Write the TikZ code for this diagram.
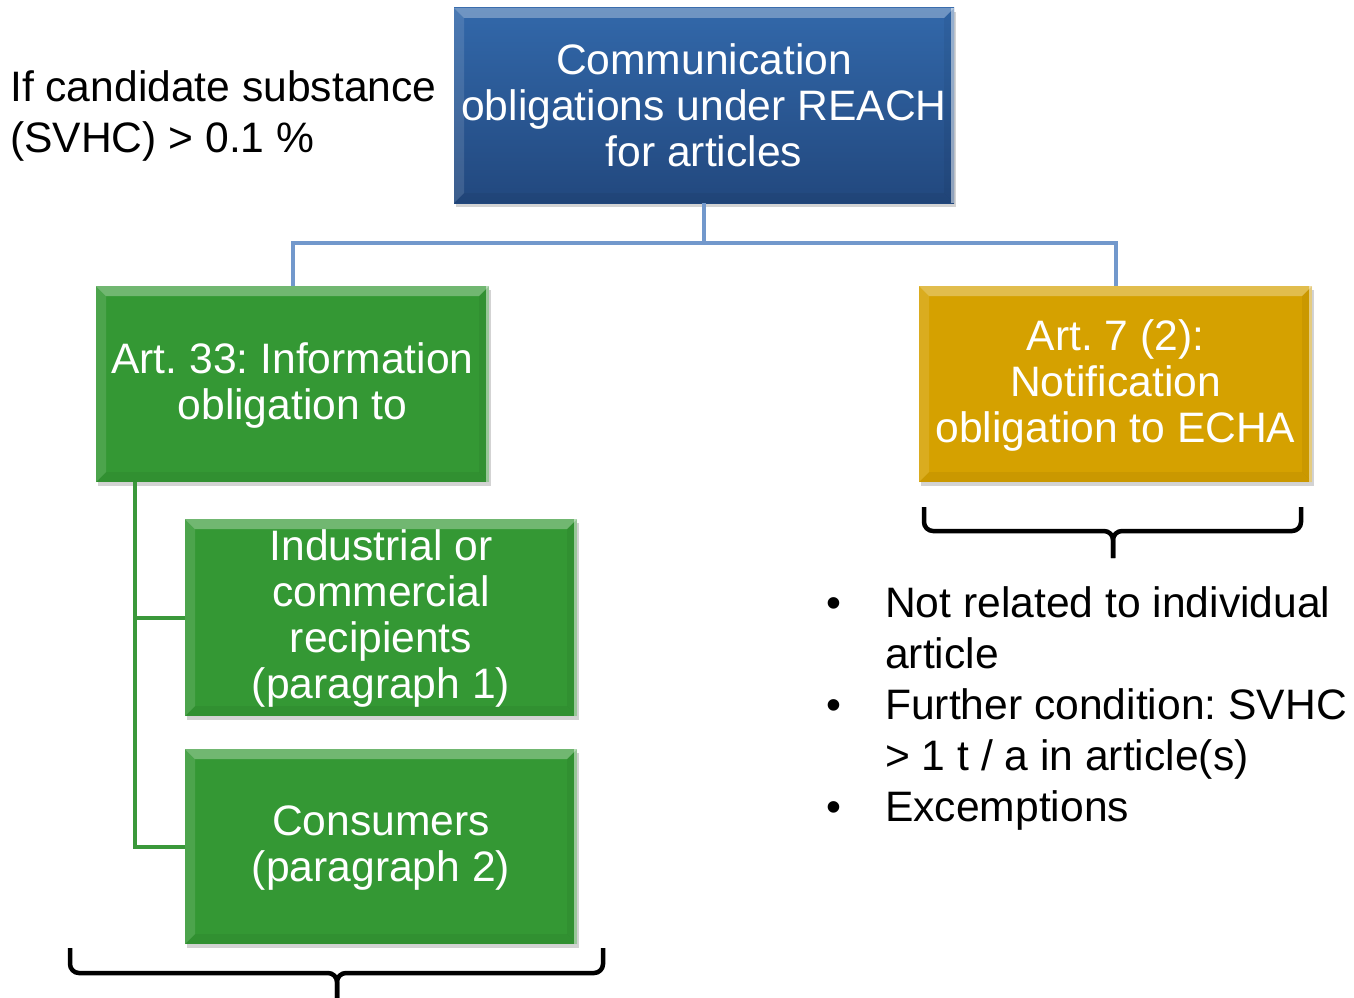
\documentclass[tikz,border=0pt]{standalone}
\usepackage{fontspec}
\setmainfont{Liberation Sans}
\usetikzlibrary{shadows}
\definecolor{bluetop}{RGB}{50,104,170}
\definecolor{bluebot}{RGB}{34,72,126}
\definecolor{boxgreen}{RGB}{52,152,52}
\definecolor{boxgold}{RGB}{213,161,0}
\definecolor{linkblue}{RGB}{114,152,204}
\definecolor{linkgreen}{RGB}{58,152,58}
\newcommand{\lowertext}[1]{\raisebox{-3pt}[\height][\depth]{\begin{tabular}{@{}c@{}}#1\end{tabular}}}
\frenchspacing
\begin{document}
\frenchspacing
\begin{tikzpicture}[x=1pt,y=-1pt,
  bevel/.style={path picture={
    \fill[white,opacity=.3] (path picture bounding box.north west) -- (path picture bounding box.north east) -- ([xshift=-10pt,yshift=-10pt]path picture bounding box.north east) -- ([xshift=10pt,yshift=-10pt]path picture bounding box.north west) -- cycle;
    \fill[white,opacity=.12] (path picture bounding box.north west) -- ([xshift=10pt,yshift=-10pt]path picture bounding box.north west) -- ([xshift=10pt,yshift=10pt]path picture bounding box.south west) -- (path picture bounding box.south west) -- cycle;
    \fill[black,opacity=.05] (path picture bounding box.south west) -- ([xshift=10pt,yshift=10pt]path picture bounding box.south west) -- ([xshift=-10pt,yshift=10pt]path picture bounding box.south east) -- (path picture bounding box.south east) -- cycle;
    \fill[black,opacity=.05] (path picture bounding box.north east) -- ([xshift=-10pt,yshift=-10pt]path picture bounding box.north east) -- ([xshift=-10pt,yshift=10pt]path picture bounding box.south east) -- (path picture bounding box.south east) -- cycle;
    \fill[white,opacity=.5] ([xshift=-3pt]path picture bounding box.north east) rectangle (path picture bounding box.south east);
  }},
  box/.style={inner sep=0pt, text=white, align=center,
    font=\fontsize{42.6}{46}\selectfont,
    drop shadow={shadow xshift=1.5pt,shadow yshift=-4pt,opacity=0.35},
    bevel},
  bluebox/.style={box, top color=bluetop, bottom color=bluebot},
  greenbox/.style={box, fill=boxgreen},
  goldbox/.style={box, fill=boxgold},
  bluelink/.style={draw=linkblue, line width=4pt},
  greenlink/.style={draw=linkgreen, line width=4pt},
  bracepath/.style={draw=black, line width=4.5pt, rounded corners=9pt},
  plain/.style={inner sep=0pt, font=\fontsize{42.6}{51}\selectfont, text=black}
]
\useasboundingbox (0,0) rectangle (1354,998);

% boxes
\node[bluebox, minimum width=500pt, minimum height=195pt] (top) at (704,105.5)
  {Communication\\obligations under REACH\\for articles};
\node[greenbox, minimum width=393pt, minimum height=196pt] (art33) at (292.5,384)
  {\lowertext{Art.\ 33: Information\\obligation to}};
\node[goldbox, minimum width=393pt, minimum height=196pt] (art7) at (1115.5,384)
  {\lowertext{Art.\ 7 (2):\\Notification\\obligation to ECHA}};
\node[greenbox, minimum width=392pt, minimum height=197pt] (ind) at (381,617.5)
  {\lowertext{Industrial or\\commercial\\recipients\\(paragraph 1)}};
\node[greenbox, minimum width=392pt, minimum height=195pt] (cons) at (381,846.5)
  {\lowertext{Consumers\\(paragraph 2)}};

% free text
\node[plain, anchor=west, align=left] (cond) at (10,116)
  {If candidate substance\\(SVHC) > 0.1 \%};
\node[plain, anchor=west] (list) at (826,708.8)
  {\begin{tabular}{@{}l@{}l@{}}
   \makebox[59pt][l]{\textbullet} & Not related to individual\\
   & article\\
   \makebox[59pt][l]{\textbullet} & Further condition:\ SVHC\\
   & > 1 t / a in article(s)\\
   \makebox[59pt][l]{\textbullet} & Excemptions
   \end{tabular}};

% blue tree connectors
\coordinate (bj) at (704,243);
\draw[bluelink] (top.south) -- (bj);
\draw[bluelink] (bj) -| (art33.north);
\draw[bluelink] (bj) -| (art7.north);

% green tree connectors
\coordinate (gs) at (135,482);
\draw[greenlink] (gs) |- (ind.west);
\draw[greenlink] (gs) |- (cons.west);

% braces
\coordinate (b1l) at (70,948);
\coordinate (b1r) at (603,948);
\coordinate (b1m) at (337,973);
\coordinate (b1t) at (337,998);
\draw[bracepath] (b1l) |- (b1m) -- (b1t);
\draw[bracepath] (b1r) |- (b1m) -- (b1t);

\coordinate (b2l) at (924,507);
\coordinate (b2r) at (1301,507);
\coordinate (b2m) at (1113,531);
\coordinate (b2t) at (1113,558);
\draw[bracepath] (b2l) |- (b2m) -- (b2t);
\draw[bracepath] (b2r) |- (b2m) -- (b2t);
\end{tikzpicture}
\end{document}
